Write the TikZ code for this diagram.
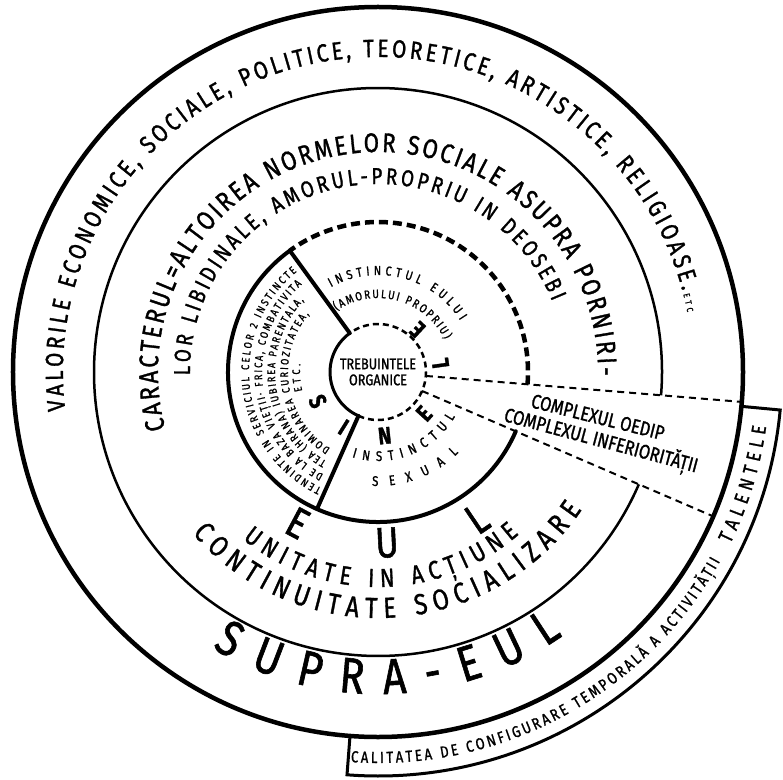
\documentclass[tikz,border=0pt]{standalone}
\usepackage{fontspec}
\setmainfont{Fira Sans}
\newfontfamily\hand[FakeStretch=0.82, FakeBold=1.2]{Fira Sans}
\usetikzlibrary{decorations.text}
\tikzset{
  ring/.style={line width=#1},
  ring/.default=2.5pt,
  cut/.style={line width=4pt, line cap=round, line join=round},
  dashring/.style={line width=4.5pt, dash pattern=on 9pt off 5pt},
  ray/.style={line width=2pt, dash pattern=on 7pt off 5pt},
  glyph/.style={font=\hand\bfseries\fontsize{24pt}{24pt}\selectfont, inner sep=0pt},
  bigglyph/.style={font=\hand\fontsize{43pt}{43pt}\selectfont, inner sep=0pt},
  cplx/.style={font=\hand\fontsize{20pt}{20pt}\selectfont, inner sep=0pt},
}
\newcommand{\fsz}[1]{\hand\fontsize{#1}{#1}\selectfont}
% text on a circle: radius, start angle, end angle, size, text
\newcommand{\ringtext}[5]{%
  \path[decorate, decoration={text along path, text align={fit to path},
    text={|\fsz{#4}|#5}}] (#2:#1) arc[start angle=#2, end angle=#3, radius=#1];
}
\begin{document}
\begin{tikzpicture}
\useasboundingbox (-378pt,-407pt) rectangle (405pt,372pt);
\coordinate (c) at (0,0);

% ── Cercurile ───────────────────────────────────────────────
\draw[ring=4.5pt] (c) circle[radius=365pt];
\draw[ring] (-4.7:284pt) arc[start angle=-4.7, end angle=336.7, radius=284pt];
\draw[dashring] (-4.7:150pt) arc[start angle=-4.7, end angle=126, radius=150pt];
\draw[cut] (126:150pt) arc[start angle=126, end angle=336.7, radius=150pt];
\draw[ring=3pt] (126:48pt) arc[start angle=126, end angle=246, radius=48pt];
\draw[ring, dash pattern=on 6pt off 4pt] (246:48pt) arc[start angle=246, end angle=486, radius=48pt];

% ── Sectorul instinctelor ───────────────────────────────────
\coordinate (sA) at (126:48pt);
\coordinate (sB) at (126:150pt);
\coordinate (sC) at (246:48pt);
\coordinate (sD) at (246:150pt);
\draw[cut] (sA) -- (sB);
\draw[cut] (sC) -- (sD);

% ── Complexele ──────────────────────────────────────────────
\coordinate (wA) at (-4.7:48pt);
\coordinate (wB) at (-4.7:365pt);
\coordinate (wC) at (-23.3:48pt);
\coordinate (wD) at (-23.3:365pt);
\draw[ray] (wA) -- (wB);
\draw[ray] (wC) -- (wD);
\node[cplx, rotate=-14] (oedip) at (220pt,-45pt) {COMPLEXUL OEDIP};
\node[cplx, rotate=-15] (infer) at (223pt,-69pt) {COMPLEXUL INFERIORITĂȚII};

% ── Banda talentelor ────────────────────────────────────────
\draw[ring=3pt] (-5.4:365pt) -- (-5.4:404pt) arc[start angle=-5.4, end angle=-94.4, radius=404pt] -- (-94.4:365pt);
\ringtext{391pt}{266}{331}{16pt}{CALITATEA DE CONFIGURARE TEMPORALĂ A ACTIVITĂȚII}
\ringtext{392pt}{334}{352}{20pt}{TALENTELE}

% ── Supra-eul ───────────────────────────────────────────────
\ringtext{315pt}{187}{11}{25pt}{VALORILE ECONOMICE, SOCIALE, POLITICE, TEORETICE, ARTISTICE, RELIGIOASE.|\fsz{9pt}|ETC}
\ringtext{322pt}{239}{305}{50pt}{SUPRA-EUL}

% ── Eul ─────────────────────────────────────────────────────
\ringtext{220pt}{195}{-1}{27pt}{CARACTERUL=ALTOIREA NORMELOR SOCIALE ASUPRA PORNIRI-}
\ringtext{188pt}{181}{22}{23pt}{LOR LIBIDINALE, AMORUL-PROPRIU IN DEOSEBI}
\ringtext{215pt}{231}{311}{26pt}{UNITATE IN ACȚIUNE}
\ringtext{246pt}{221}{326}{29pt}{CONTINUITATE SOCIALIZARE}
\node[bigglyph, rotate=332] (eulE) at (242:171pt) {E};
\node[bigglyph, rotate=363] (eulU) at (273:171pt) {U};
\node[bigglyph, rotate=394] (eulL) at (304:177pt) {L};

% ── Instinctele ─────────────────────────────────────────────
\ringtext{97pt}{119}{32}{13pt}{INSTINCTUL EULUI}
\ringtext{74pt}{124}{26}{12pt}{(AMORULUI PROPRIU)}
\ringtext{89pt}{253}{330}{14pt}{INSTINCTUL}
\ringtext{114pt}{267}{315}{14pt}{SEXUAL}
\ringtext{129pt}{244}{129}{11pt}{TENDINTE IN SERVICIUL CELOR 2 INSTINCTE}
\ringtext{116pt}{242}{131}{11pt}{DE LA BAZA VIEȚII· FRICA, COMBATIVITA}
\ringtext{103pt}{240}{136}{11pt}{TEA (HRANA) IUBIREA PARENTALA,}
\ringtext{90pt}{238}{140}{11pt}{DOMINAREA CURIOZITATEA,}
\ringtext{78pt}{194}{174}{11pt}{ETC.}

% ── Sinele ──────────────────────────────────────────────────
\node[glyph, rotate=296] (sinS) at (206:67pt) {S};
\node[glyph, rotate=328] (sinI) at (238:65pt) {I};
\node[glyph, rotate=366] (sinN) at (276:64pt) {N};
\node[glyph, rotate=408] (sinE) at (318:62pt) {E};
\node[glyph, rotate=98] (sinL) at (8:63pt) {L};
\node[glyph, rotate=137] (sinF) at (47:58pt) {E};
\node[font=\hand\fontsize{15.5pt}{16pt}\selectfont, align=center, inner sep=0pt] (org) at (c) {TREBUINTELE\\ORGANICE};

\end{tikzpicture}
\end{document}
